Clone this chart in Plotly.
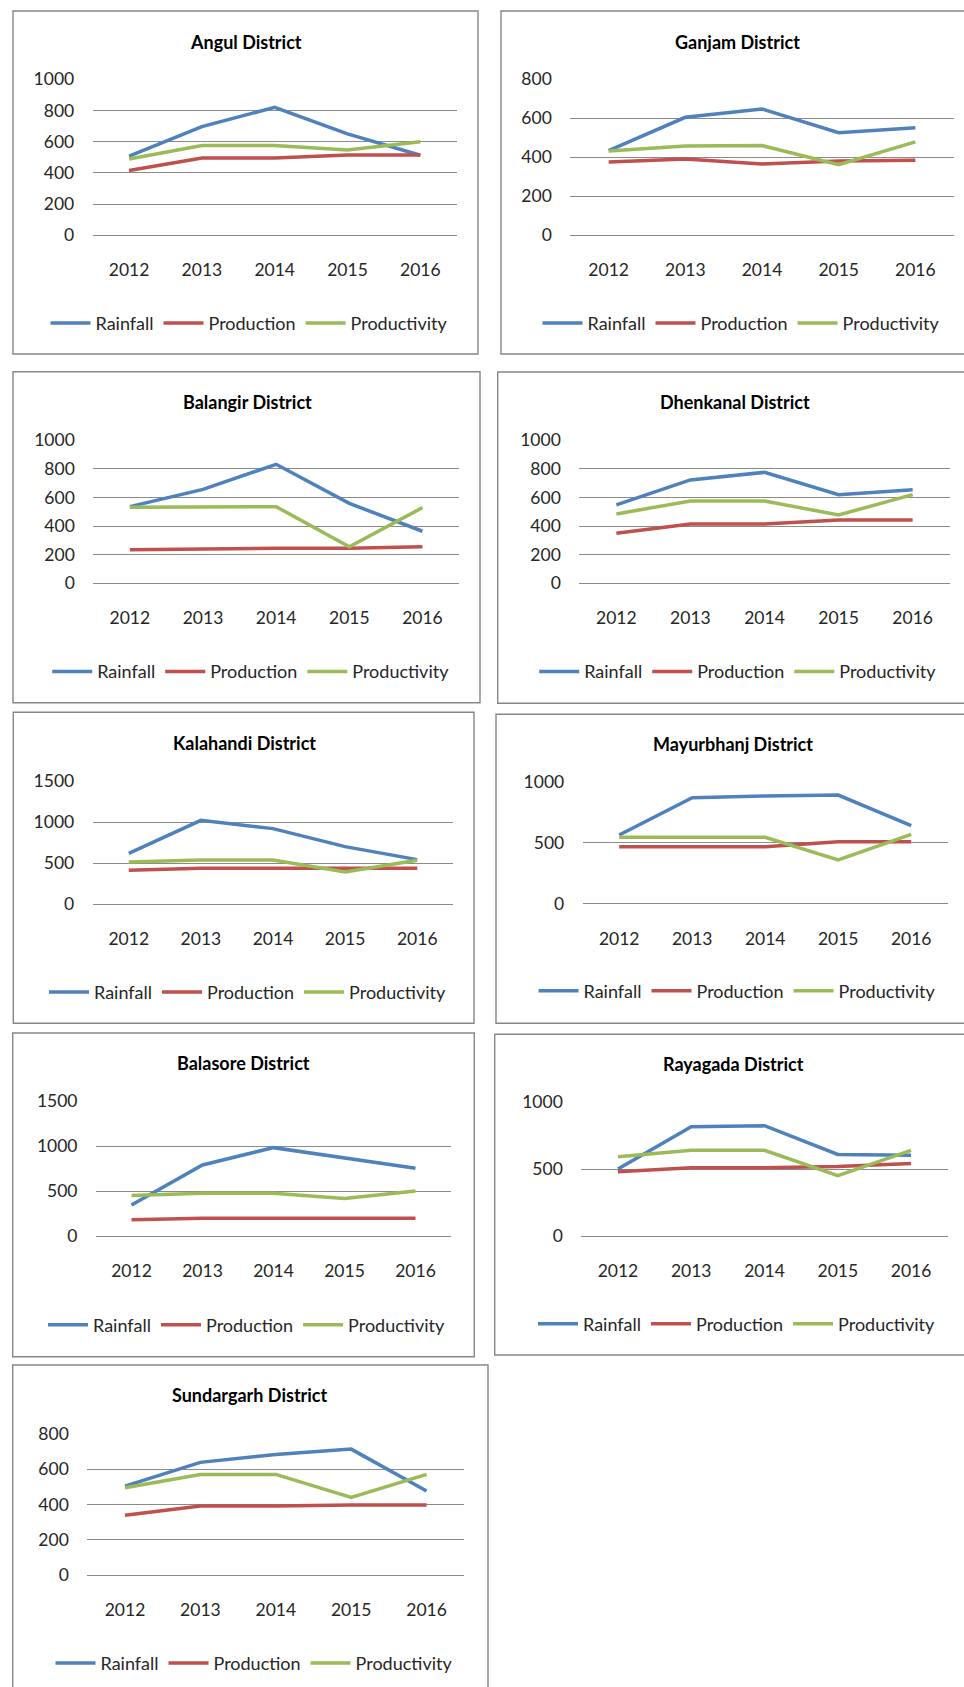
import plotly.graph_objects as go

# ---- data -------------------------------------------------------------
years = ["2012", "2013", "2014", "2015", "2016"]
series_names = ["Rainfall", "Production", "Productivity"]

angul_rainfall = [508, 697, 820, 650, 513]
angul_production = [415, 496, 496, 515, 515]
angul_productivity = [489, 575, 575, 547, 600]

ganjam_rainfall = [434, 605, 648, 526, 552]
ganjam_production = [376, 391, 366, 381, 385]
ganjam_productivity = [432, 458, 460, 362, 479]

balangir_rainfall = [536, 657, 832, 559, 364]
balangir_production = [235, 242, 245, 245, 256]
balangir_productivity = [531, 536, 536, 256, 529]

dhenkanal_rainfall = [548, 723, 776, 620, 655]
dhenkanal_production = [350, 415, 415, 443, 443]
dhenkanal_productivity = [485, 576, 576, 478, 620]

kalahandi_rainfall = [622, 1024, 923, 703, 545]
kalahandi_production = [415, 439, 439, 439, 439]
kalahandi_productivity = [516, 541, 541, 394, 537]

mayurbhanj_rainfall = [564, 871, 885, 893, 641]
mayurbhanj_production = [468, 468, 468, 510, 510]
mayurbhanj_productivity = [545, 545, 545, 359, 570]

balasore_rainfall = [348, 793, 985, 867, 756]
balasore_production = [185, 200, 200, 200, 200]
balasore_productivity = [452, 478, 478, 419, 504]

rayagada_rainfall = [501, 816, 824, 610, 603]
rayagada_production = [481, 511, 511, 519, 543]
rayagada_productivity = [593, 640, 640, 452, 640]

sundargarh_rainfall = [504, 638, 683, 713, 476]
sundargarh_production = [339, 392, 392, 397, 397]
sundargarh_productivity = [495, 570, 570, 440, 570]

# ---- page geometry (pixels) --------------------------------------------
W, H = 964, 1687
FONT = "Lato"
COLORS = ["#4F81BD", "#C0504D", "#9BBB59"]
GRID = "#8a8a8a"
TICK_SIZE = 17.5
LEGEND_SIZE = 18
TITLE_SIZE = 18


def fx(x):
    return x / W


def fy(y):
    return 1 - y / H


panels = [
    dict(title="Angul District",
         series=(angul_rainfall, angul_production, angul_productivity),
         ymax=1000, dtick=200, box=(13, 11, 478, 354),
         plot=(92.7, 79.3, 456.7, 235.3), title_xy=(245.7, 41.7), legend_xy=(249, 323.3)),
    dict(title="Ganjam District",
         series=(ganjam_rainfall, ganjam_production, ganjam_productivity),
         ymax=800, dtick=200, box=(501, 11, 975, 354),
         plot=(570.3, 79.3, 953.7, 235.3), title_xy=(737.3, 41.7), legend_xy=(741, 323.3)),
    dict(title="Balangir District",
         series=(balangir_rainfall, balangir_production, balangir_productivity),
         ymax=1000, dtick=200, box=(13, 371.7, 480, 702.7),
         plot=(93.3, 440.3, 459, 583.3), title_xy=(247.8, 402.3), legend_xy=(250.7, 671.7)),
    dict(title="Dhenkanal District",
         series=(dhenkanal_rainfall, dhenkanal_production, dhenkanal_productivity),
         ymax=1000, dtick=200, box=(497.7, 372, 975, 703.3),
         plot=(579.3, 440.3, 949.7, 583.3), title_xy=(734.7, 402), legend_xy=(737.7, 671.7)),
    dict(title="Kalahandi District",
         series=(kalahandi_rainfall, kalahandi_production, kalahandi_productivity),
         ymax=1500, dtick=500, box=(13.3, 712.3, 474, 1023.3),
         plot=(92.7, 781.3, 453.3, 904.3), title_xy=(244, 743.3), legend_xy=(247.5, 992.3)),
    dict(title="Mayurbhanj District",
         series=(mayurbhanj_rainfall, mayurbhanj_production, mayurbhanj_productivity),
         ymax=1000, dtick=500, box=(496, 714.3, 975, 1023.3),
         plot=(582.7, 782, 947.7, 903.7), title_xy=(733.3, 744.3), legend_xy=(737, 991)),
    dict(title="Balasore District",
         series=(balasore_rainfall, balasore_production, balasore_productivity),
         ymax=1500, dtick=500, box=(12.7, 1033, 474.3, 1356.7),
         plot=(96, 1101.3, 451, 1236.3), title_xy=(243.3, 1063.3), legend_xy=(246.5, 1325)),
    dict(title="Rayagada District",
         series=(rayagada_rainfall, rayagada_production, rayagada_productivity),
         ymax=1000, dtick=500, box=(494.7, 1034.3, 975, 1355),
         plot=(581.3, 1102, 947.7, 1236.3), title_xy=(733.8, 1064.3), legend_xy=(736.5, 1324)),
    dict(title="Sundargarh District",
         series=(sundargarh_rainfall, sundargarh_production, sundargarh_productivity),
         ymax=800, dtick=200, box=(12.7, 1365, 488, 1700),
         plot=(87.3, 1433.7, 464.3, 1575.3), title_xy=(250, 1395), legend_xy=(254, 1663.3)),
]

fig = go.Figure()
layout = dict(
    width=W, height=H,
    margin=dict(l=0, r=0, t=0, b=0, pad=0, autoexpand=False),
    paper_bgcolor="white", plot_bgcolor="white",
    font=dict(family=FONT, size=TICK_SIZE, color="#262626"),
    shapes=[], annotations=[],
)

for i, p in enumerate(panels, start=1):
    sfx = "" if i == 1 else str(i)
    xa, ya = "x" + sfx, "y" + sfx
    lg = "legend" + sfx

    for name, vals, col in zip(series_names, p["series"], COLORS):
        fig.add_trace(go.Scatter(
            x=years, y=vals, name=name, mode="lines",
            line=dict(color=col, width=3.5),
            xaxis=xa, yaxis=ya, legend=lg, hoverinfo="skip",
        ))

    x0, y_top, x1, y_bot = p["plot"]
    layout["xaxis" + sfx] = dict(
        domain=[fx(x0), fx(x1)], anchor=ya, type="category",
        range=[-0.5, 4.5], showgrid=False, zeroline=False, showline=False,
        ticks="outside", ticklen=19, tickcolor="rgba(0,0,0,0)",
        tickfont=dict(family=FONT, size=TICK_SIZE, color="#262626"),
        fixedrange=True, automargin=False,
    )
    layout["yaxis" + sfx] = dict(
        domain=[fy(y_bot), fy(y_top)], anchor=xa,
        range=[0, p["ymax"]], dtick=p["dtick"], tick0=0,
        showgrid=True, gridcolor=GRID, gridwidth=1,
        zeroline=True, zerolinecolor=GRID, zerolinewidth=1, showline=False,
        ticks="outside", ticklen=14, tickcolor="rgba(0,0,0,0)",
        tickfont=dict(family=FONT, size=TICK_SIZE, color="#262626"),
        fixedrange=True, automargin=False,
    )
    layout[lg] = dict(
        orientation="h", x=fx(p["legend_xy"][0]), y=fy(p["legend_xy"][1]),
        xanchor="center", yanchor="middle", bgcolor="rgba(0,0,0,0)",
        font=dict(family=FONT, size=LEGEND_SIZE, color="#262626"),
        itemwidth=40, tracegroupgap=0,
    )

    bx0, by0, bx1, by1 = p["box"]
    layout["shapes"].append(dict(
        type="rect", xref="paper", yref="paper",
        x0=fx(bx0), x1=fx(bx1), y0=fy(by1), y1=fy(by0),
        line=dict(color="#878787", width=1.4), layer="below",
    ))
    tx, ty = p["title_xy"]
    layout["annotations"].append(dict(
        text="<b>" + p["title"] + "</b>", xref="paper", yref="paper",
        x=fx(tx), y=fy(ty), xanchor="center", yanchor="middle",
        showarrow=False, font=dict(family=FONT, size=TITLE_SIZE, color="#000000"),
    ))

fig.update_layout(**layout)
fig.write_html("out.html")
